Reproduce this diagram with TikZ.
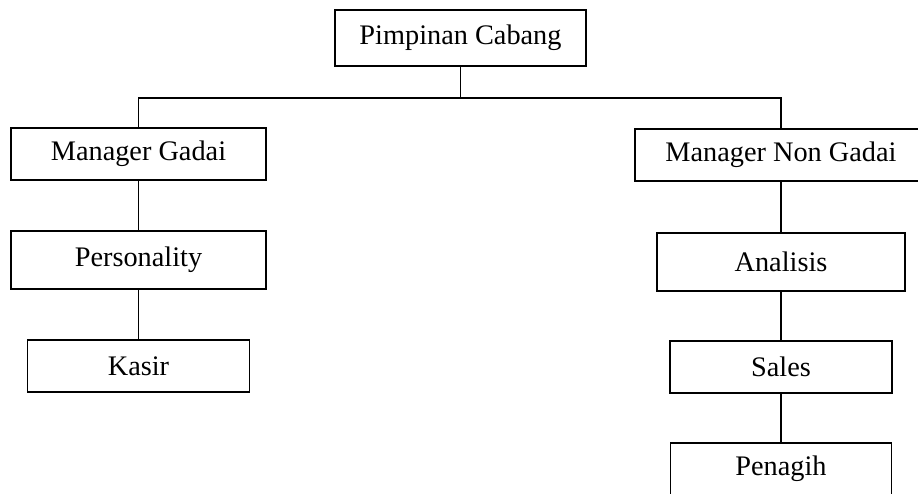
\documentclass[tikz,border=0pt]{standalone}
\usepackage{fontspec}
\setmainfont{Liberation Serif}
\usepackage{tikz}

\begin{document}
\begin{tikzpicture}[x=1pt,y=-1pt,
        unit/.style={draw,line width=1.6pt,inner sep=0pt,minimum height=52pt,
            font=\fontsize{28.3}{34}\selectfont},
        tall/.style={minimum height=58pt},
        link/.style={line width=1.6pt}]
        \useasboundingbox (0,0) rectangle (918,493);
        \clip (0,0) rectangle (918,493);
        % top
        \node[unit,minimum width=251pt,minimum height=56pt] (boss) at (460.5,38) {Pimpinan Cabang};
        \coordinate (bus) at (460.5,98);
        % left branch
        \node[unit,minimum width=255pt] (mgadai) at (138.5,154) {Manager Gadai};
        \node[unit,tall,minimum width=255pt] (pers) at (138.5,260) {Personality};
        \node[unit,minimum width=222pt] (kasir) at (138.5,366) {Kasir};
        % right branch
        \node[unit,minimum width=292pt] (mnongadai) at (781,155) {Manager Non Gadai};
        \node[unit,tall,minimum width=248pt] (analis) at (781,262) {Analisis};
        \node[unit,minimum width=222pt] (sales) at (781,367) {Sales};
        \node[unit,minimum width=221pt] (tagih) at (781,469) {Penagih};

        \draw[link] (boss) -- (bus);
        \draw[link] (mgadai.north) |- (bus) -| (mnongadai.north);
        \draw[link] (mgadai) -- (pers);
        \draw[link] (pers) -- (kasir);
        \draw[link] (mnongadai) -- (analis);
        \draw[link] (analis) -- (sales);
        \draw[link] (sales) -- (tagih);
    \end{tikzpicture}
\end{document}
